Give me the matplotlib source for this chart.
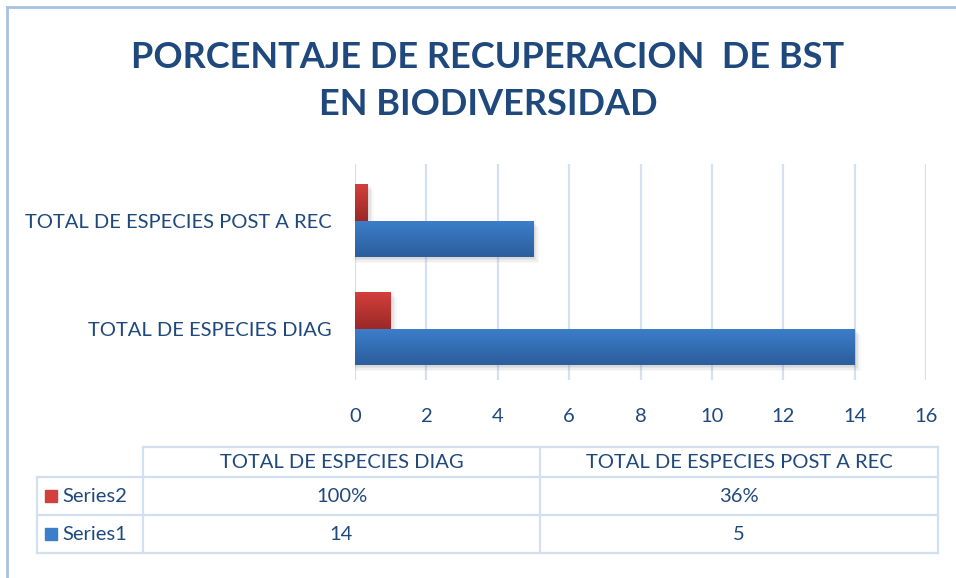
import numpy as np
import matplotlib.pyplot as plt
from matplotlib.lines import Line2D
from matplotlib.patches import Rectangle
from matplotlib.colors import LinearSegmentedColormap

# data
categories = ["TOTAL DE ESPECIES DIAG", "TOTAL DE ESPECIES POST A REC"]
series1 = [14, 5]
series2 = [1.00, 0.36]
series_names = ["Series1", "Series2"]
xticks = list(range(0, 17, 2))
title = "PORCENTAJE DE RECUPERACION  DE BST\nEN BIODIVERSIDAD"

W, H = 956, 578
TXT = "#1f497d"
GRID = "#d5e1f0"
LINE = "#d3e0f1"
blue_top, blue_bot = "#3d7ecb", "#2b5e9c"
red_top, red_bot = "#d33f3c", "#9a2926"
FS = 14.5

plt.rcParams['font.family'] = ['Lato', 'DejaVu Sans']

fig = plt.figure(figsize=(W / 100, H / 100), dpi=100)


def fx(x):
    return x / W


def fy(y):
    return 1 - y / H


# outer frame (top and left edges)
fig.add_artist(Line2D([fx(7), fx(7)], [fy(7), 0], color="#a9c1e2", lw=2))
fig.add_artist(Line2D([fx(7), 1], [fy(7), fy(7)], color="#a9c1e2", lw=2))

fig.text(fx(488), fy(81), title, ha="center", va="center", fontsize=26,
         fontweight="bold", color=TXT, linespacing=1.5)

# bar chart
x0, x1, ytop, ybot = 355, 926, 164, 380
ax = fig.add_axes([fx(x0), fy(ybot), (x1 - x0) / W, (ybot - ytop) / H])
xmin, xmax = 0, 16
ymin, ymax = -0.475, 1.525
px_x = (xmax - xmin) / (x1 - x0)
px_y = (ymax - ymin) / (ybot - ytop)

y = np.arange(len(categories))
h = 0.34


def draw_bars(ypos, vals, c_top, c_bot):
    cmap = LinearSegmentedColormap.from_list("g", [c_top, c_bot])
    grad = np.linspace(0, 1, 64).reshape(-1, 1)
    for yy, v in zip(ypos, vals):
        # soft drop shadow
        for k, a in zip([6, 4.5, 3, 1.5], [0.05, 0.07, 0.09, 0.11]):
            ax.add_patch(Rectangle((0, yy - h / 2 - k * px_y), v + k * px_x, h,
                                   facecolor="#808080", alpha=a, lw=0, zorder=2))
        bar = ax.barh(yy, v, height=h, color=c_bot, lw=0, zorder=3)[0]
        im = ax.imshow(grad, cmap=cmap, aspect="auto", origin="upper",
                       extent=[0, v, yy - h / 2, yy + h / 2], zorder=4)
        im.set_clip_path(bar)


draw_bars(y - h / 2, series1, blue_top, blue_bot)
draw_bars(y + h / 2, series2, red_top, red_bot)

ax.set_xlim(xmin, xmax)
ax.set_ylim(ymin, ymax)
ax.set_xticks(xticks)
ax.set_yticks(y)
ax.set_yticklabels(categories)
ax.tick_params(length=0, labelsize=FS, labelcolor=TXT)
ax.tick_params(axis="x", pad=20)
ax.tick_params(axis="y", pad=17)
for t in xticks:
    ax.axvline(t, color=GRID, lw=1.6, zorder=1)
for s in ax.spines.values():
    s.set_visible(False)

# data table under the chart
cols = [37, 143, 540, 938]
rows = [447, 477, 515, 553]
lw = 1.6
fig.add_artist(Line2D([fx(cols[1]), fx(cols[3])], [fy(rows[0])] * 2, color=LINE, lw=lw))
for r in rows[1:]:
    fig.add_artist(Line2D([fx(cols[0]), fx(cols[3])], [fy(r)] * 2, color=LINE, lw=lw))
fig.add_artist(Line2D([fx(cols[0])] * 2, [fy(rows[1]), fy(rows[3])], color=LINE, lw=lw))
for c in cols[1:]:
    fig.add_artist(Line2D([fx(c)] * 2, [fy(rows[0]), fy(rows[3])], color=LINE, lw=lw))

for i, cat in enumerate(categories):
    cx = (cols[i + 1] + cols[i + 2]) / 2
    fig.text(fx(cx), fy((rows[0] + rows[1]) / 2), cat, ha="center", va="center",
             fontsize=FS, color=TXT)
    fig.text(fx(cx), fy((rows[1] + rows[2]) / 2), f"{series2[i]:.0%}", ha="center",
             va="center", fontsize=FS, color=TXT)
    fig.text(fx(cx), fy((rows[2] + rows[3]) / 2), f"{series1[i]}", ha="center",
             va="center", fontsize=FS, color=TXT)

for name, color, (ra, rb) in [(series_names[1], red_top, rows[1:3]),
                              (series_names[0], blue_top, rows[2:4])]:
    cy = (ra + rb) / 2
    fig.add_artist(Rectangle((fx(45), fy(cy + 6)), 12 / W, 12 / H, color=color,
                             transform=fig.transFigure))
    fig.text(fx(62), fy(cy), name, ha="left", va="center", fontsize=FS, color=TXT)

fig.savefig("out.png", dpi=100)
